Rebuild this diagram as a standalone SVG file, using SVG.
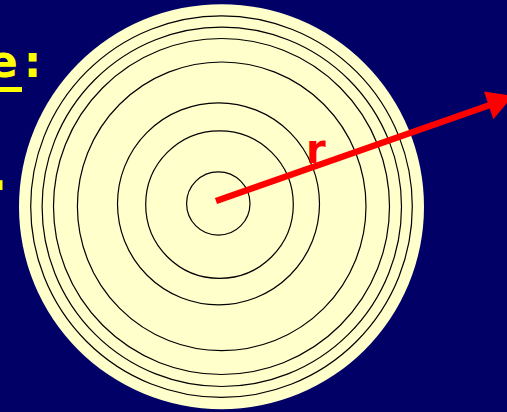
<svg xmlns="http://www.w3.org/2000/svg" width="507" height="412" viewBox="0 0 507 412">
<style>
.ring{fill:none;stroke:#000;stroke-width:1.2}
.yel{fill:#FFFF00;font-family:"DejaVu Sans",sans-serif;font-weight:bold}
.red{fill:#FF0000;font-family:"DejaVu Sans",sans-serif;font-weight:bold}
</style>
<rect width="507" height="412" fill="#000066"/>
<g id="title">
<text class="yel" font-size="44" x="-12" y="77">e<tspan dx="6">:</tspan></text>
<rect x="0" y="87" width="22" height="5" fill="#FFFF00"/>
<text class="yel" font-size="52" x="-12" y="190">.</text>
</g>
<g id="disk">
<circle cx="221.5" cy="206.7" r="202.5" fill="#FFFFCC"/>
<circle class="ring" cx="218.3" cy="203.5" r="31.7"/>
<circle class="ring" cx="219.5" cy="204.6" r="73.8"/>
<circle class="ring" cx="218.5" cy="203.8" r="101"/>
<circle class="ring" cx="221.7" cy="206.3" r="144.3"/>
<circle class="ring" cx="221.5" cy="206.5" r="168"/>
<circle class="ring" cx="221.8" cy="206.8" r="179.7"/>
<circle class="ring" cx="221.5" cy="206.6" r="190.8"/>
</g>
<g id="connectors">
<line x1="216" y1="201" x2="490" y2="105" stroke="#FF0000" stroke-width="6.5"/>
<polygon points="484,91.5 493.3,119.3 513,96" fill="#FF0000"/>
</g>
<g id="label-r">
<text class="red" font-size="40" x="306" y="163">r</text>
</g>
</svg>
